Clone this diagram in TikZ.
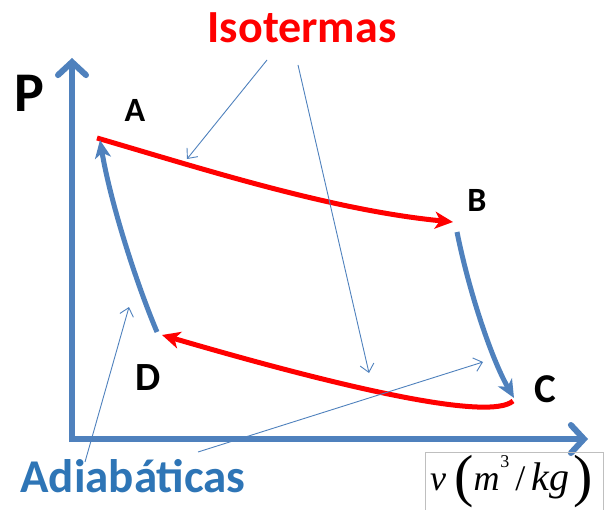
\documentclass[tikz,border=0pt]{standalone}
\usepackage{fontspec}
\setmainfont{Carlito}
\newfontfamily\tnr{Liberation Serif}
\usetikzlibrary{arrows.meta}
\definecolor{axblue}{RGB}{79,129,189}
\definecolor{txtblue}{RGB}{46,117,182}
\definecolor{isored}{RGB}{255,0,0}
\begin{document}
\begin{tikzpicture}[x=1pt,y=-1pt,
  axis/.style={line width=6pt,draw=axblue,-{Straight Barb[length=13pt,width=28pt,line cap=round]}},
  iso/.style={line width=5pt,draw=isored,-{Stealth[length=18pt,width=17pt,inset=5pt]}},
  adia/.style={line width=5pt,draw=axblue,-{Stealth[length=18pt,width=16pt,inset=5pt]}},
  leader/.style={line width=0.9pt,draw=axblue,-{Straight Barb[length=8pt,width=14pt]}},
  pt/.style={font=\bfseries\fontsize{34}{34}\selectfont,anchor=base,inner sep=0pt},
  ttl/.style={font=\bfseries\fontsize{46}{46}\selectfont,anchor=base,inner sep=0pt}]
\useasboundingbox (0,0) rectangle (604,510);
% axes
\coordinate (O) at (72,439);
\coordinate (Ytip) at (72,58);
\coordinate (Xtip) at (588,439);
\draw[axis] (72,442) -- (Ytip);
\draw[axis] (69,439) -- (Xtip);
% labels
\node[pt,font=\bfseries\fontsize{56}{56}\selectfont] (P) at (29,112) {P};
\node[pt] (A) at (135,122) {A};
\node[pt] (B) at (477,212) {B};
\node[pt,font=\bfseries\fontsize{41}{41}\selectfont] (C) at (545,402) {C};
\node[pt,font=\bfseries\fontsize{40}{40}\selectfont] (D) at (148,390) {D};
\node[ttl,text=isored,font=\bfseries\fontsize{46}{46}\selectfont] (iso) at (302,43) {Isotermas};
\node[ttl,text=txtblue,font=\bfseries\fontsize{47}{47}\selectfont] (adi) at (133,492) {Adiabáticas};
% process points
\coordinate (pA) at (97,138);
\coordinate (pB) at (453,222);
\coordinate (pB2) at (457,232);
\coordinate (pC) at (514,398);
\coordinate (pC2) at (513,401);
\coordinate (pD) at (162,335);
\coordinate (pD2) at (157,332);
\coordinate (pA2) at (100,140);
% isotherms
\draw[iso] (pA) .. controls (200,168) and (330,210) .. (pB);
\draw[iso] (pC2) .. controls (490,421) and (350,390) .. (pD);
% adiabats
\draw[adia] (pB2) .. controls (469,292) and (492,360) .. (pC);
\draw[adia] (pD2) .. controls (135,280) and (110,200) .. (pA2);
% leaders
\coordinate (l1s) at (267,60);
\coordinate (l1e) at (187,159);
\coordinate (l2s) at (298,65);
\coordinate (l2e) at (369,373);
\coordinate (l3s) at (85,462);
\coordinate (l3e) at (129,307);
\coordinate (l4s) at (198,452);
\coordinate (l4e) at (483,362);
\draw[leader] (l1s) -- (l1e);
\draw[leader] (l2s) -- (l2e);
\draw[leader] (l3s) -- (l3e);
\draw[leader] (l4s) -- (l4e);
% x-axis label box
\draw[draw=black!25,line width=0.8pt] (425,452) rectangle (603,510);
\node[anchor=base west,inner sep=0pt,font=\tnr\fontsize{36}{36}\selectfont] (xlab) at (430,490)
  {\textit{v}\hspace{8pt}\raisebox{-5pt}{\fontsize{58}{58}\selectfont(}\textit{m}\hspace{1pt}\raisebox{23pt}{\fontsize{18}{18}\selectfont 3}\hspace{6pt}/\hspace{6pt}{\fontsize{40}{40}\selectfont\textit{kg}}\hspace{4pt}\raisebox{-5pt}{\fontsize{58}{58}\selectfont)}};
\end{tikzpicture}
\end{document}
